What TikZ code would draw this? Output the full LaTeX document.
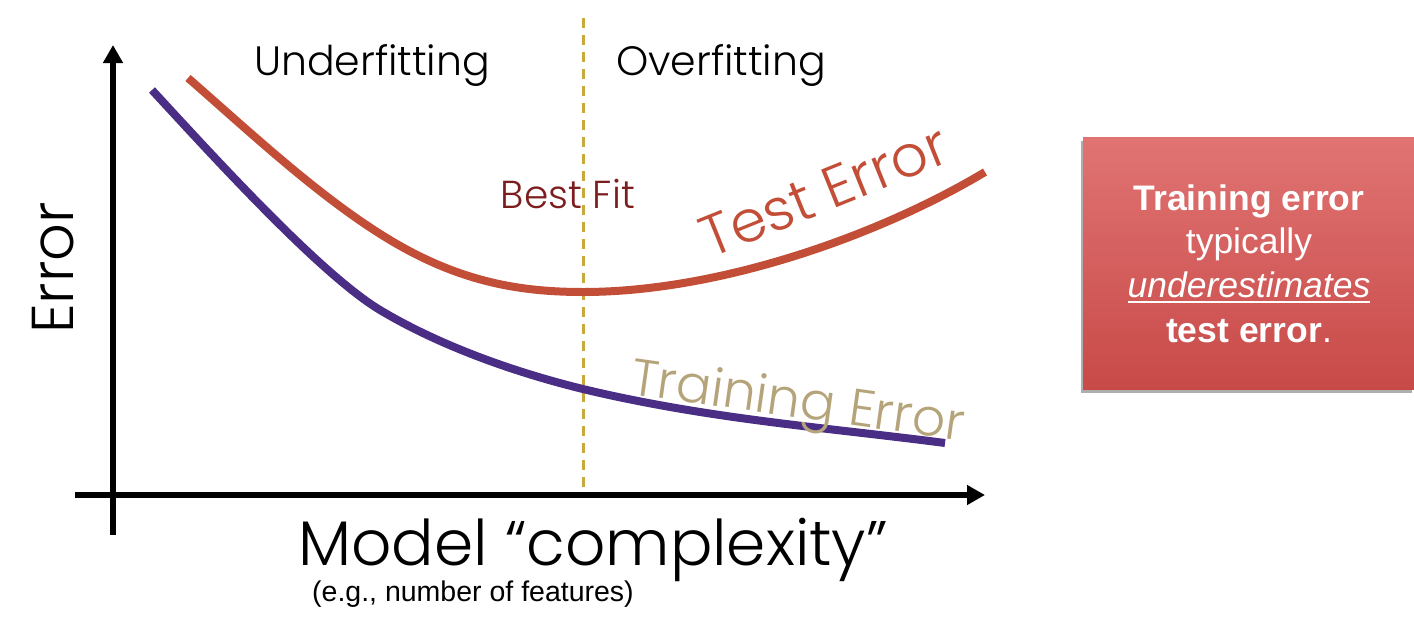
\documentclass[tikz,border=0pt]{standalone}
\usepackage{fontspec}
\usetikzlibrary{arrows.meta,shadows}
\IfFontExistsTF{Poppins Light}{\newfontfamily\gothic{Poppins Light}}{\newfontfamily\gothic{Poppins}}
\newfontfamily\robo{Liberation Sans}
\definecolor{testred}{RGB}{194,78,56}
\definecolor{trainpurple}{RGB}{74,45,133}
\definecolor{dashgold}{RGB}{200,170,60}
\definecolor{bestred}{RGB}{125,30,30}
\definecolor{traintan}{RGB}{181,164,122}
\definecolor{boxtop}{RGB}{224,116,115}
\definecolor{boxbot}{RGB}{200,74,72}
\newcommand\myul[1]{\vtop{\hbox{#1}\kern4pt\hrule height 2pt}}
\tikzset{
  axis/.style={line width=5.5pt,-{Triangle[length=18pt,width=19pt]}},
  curve/.style={line width=8pt},
  lbl/.style={inner sep=0pt,font=\gothic},
  boxtxt/.style={inner sep=0pt,text=white,anchor=base,font=\robo\fontsize{35.5}{42}\selectfont}
}
\begin{document}
\begin{tikzpicture}[x=1pt,y=-1pt]
\useasboundingbox (0,0) rectangle (1414,619);
% axes
\coordinate (yb) at (113,535);
\coordinate (yt) at (113,45);
\coordinate (xl) at (75,495);
\coordinate (xr) at (985,495);
\draw[axis] (yb) -- (yt);
\draw[axis] (xl) -- (xr);
% dashed best-fit line
\coordinate (dt) at (583,18);
\coordinate (db) at (583,490);
\draw[dashgold,line width=3pt,dash pattern=on 10pt off 7pt] (dt) -- (db);
% curves
\coordinate (r0) at (188,78);
\coordinate (r1) at (390,240);
\coordinate (r2) at (583,292);
\coordinate (r3) at (985,172);
\draw[curve,testred] (r0) .. controls (250,132) and (320,198) .. (r1)
  .. controls (460,282) and (520,292) .. (r2)
  .. controls (720,292) and (880,235) .. (r3);
\coordinate (p0) at (152,90);
\coordinate (p1) at (380,310);
\coordinate (p2) at (600,393);
\coordinate (p3) at (945,443);
\draw[curve,trainpurple] (p0) .. controls (212,155) and (320,274) .. (p1)
  .. controls (440,346) and (520,375) .. (p2)
  .. controls (720,420) and (830,428) .. (p3);
% labels
\node[lbl,anchor=base,font=\gothic\fontsize{41}{41}\selectfont] (under) at (372,75) {Underfitting};
\node[lbl,anchor=base,font=\gothic\fontsize{41}{41}\selectfont] (over) at (721,75) {Overfitting};
\node[lbl,anchor=base,rotate=90,font=\gothic\fontsize{59}{59}\selectfont] (err) at (73,268) {Error};
\node[lbl,anchor=base,font=\gothic\fontsize{63}{63}\selectfont] (model) at (593,565) {Model “complexity”};
\node[inner sep=0pt,anchor=base west,font=\robo\fontsize{28.5}{28.5}\selectfont] (eg) at (312,601) {(e.g., number of features)};
\node[lbl,anchor=base,text=bestred,font=\gothic\fontsize{39}{39}\selectfont] (best) at (568,208) {Best Fit};
\node[lbl,anchor=base west,rotate=22,text=testred,font=\gothic\fontsize{58}{58}\selectfont] (testlbl) at (710,259) {Test Error};
\node[lbl,anchor=base west,rotate=-8,text=traintan,font=\gothic\fontsize{52}{52}\selectfont] (trainlbl) at (629,394) {Training Error};
% box
\node[anchor=north west,minimum width=331pt,minimum height=252pt,inner sep=0pt,
      top color=boxtop,bottom color=boxbot,
      drop shadow={shadow xshift=-2pt,shadow yshift=-4pt,opacity=0.45,fill=black!70}] (box) at (1083,137) {};
\node[boxtxt] (l1) at (1249,210) {\bfseries Training error};
\node[boxtxt] (l2) at (1249,253) {typically};
\node[boxtxt] (l3) at (1249,297) {\myul{\itshape underestimates}};
\node[boxtxt] (l4) at (1249,342) {\textbf{test error}.};
\end{tikzpicture}
\end{document}
